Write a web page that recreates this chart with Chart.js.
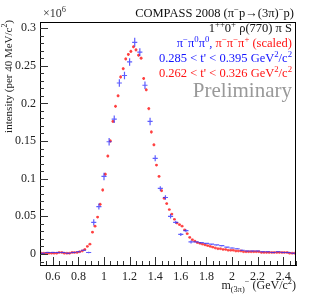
<!DOCTYPE html>
<html>
<head>
<meta charset="utf-8">
<script src="https://cdn.jsdelivr.net/npm/chart.js@4"></script>
<style>
  html, body { margin: 0; padding: 0; background: #fff; }
  #wrap { width: 311px; height: 300px; }
</style>
</head>
<body>
<div id="wrap"><canvas id="massChart"></canvas></div>
<script>
// pi- pi0 pi0, 40 MeV bins (bin centres)
const blueMass = [
    0.52, 0.56, 0.60, 0.64, 0.68, 0.72, 0.76, 0.80, 0.84, 0.88,
    0.92, 0.96, 1.00, 1.04, 1.08, 1.12, 1.16, 1.20, 1.24, 1.28,
    1.32, 1.36, 1.40, 1.44, 1.48, 1.52, 1.56, 1.60, 1.64, 1.68,
    1.72, 1.76, 1.80, 1.84, 1.88, 1.92, 1.96, 2.00, 2.04, 2.08,
    2.12, 2.16, 2.20, 2.24, 2.28, 2.32, 2.36, 2.40, 2.44, 2.48
];
const blueIntensity = [
    0.001, 0.002, 0.002, 0.002, 0.002, 0.001, 0.002, 0.003, 0.005, 0.002,
    0.042, 0.063, 0.103, 0.149, 0.179, 0.227, 0.237, 0.255, 0.281, 0.268,
    0.224, 0.176, 0.127, 0.087, 0.075, 0.050, 0.042, 0.026, 0.031, 0.016,
    0.016, 0.015, 0.014, 0.013, 0.012, 0.011, 0.009, 0.008, 0.007, 0.005,
    0.004, 0.004, 0.004, 0.003, 0.003, 0.002, 0.003, 0.002, 0.002, 0.001
];
const blueError = [
    0.001, 0.001, 0.001, 0.001, 0.001, 0.001, 0.001, 0.001, 0.001, 0.001,
    0.004, 0.004, 0.005, 0.005, 0.005, 0.005, 0.005, 0.005, 0.006, 0.005,
    0.005, 0.005, 0.004, 0.003, 0.003, 0.003, 0.002, 0.002, 0.002, 0.002,
    0.001, 0.001, 0.001, 0.001, 0.001, 0.001, 0.001, 0.001, 0.001, 0.001,
    0.001, 0.001, 0.001, 0.001, 0.001, 0.001, 0.001, 0.001, 0.001, 0.001
];

// pi- pi- pi+ (scaled), 20 MeV bins
const redMass = [
    0.51, 0.53, 0.55, 0.57, 0.59, 0.61, 0.63, 0.65, 0.67, 0.69,
    0.71, 0.73, 0.75, 0.77, 0.79, 0.81, 0.83, 0.85, 0.87, 0.89,
    0.91, 0.93, 0.95, 0.97, 0.99, 1.01, 1.03, 1.05, 1.07, 1.09,
    1.11, 1.13, 1.15, 1.17, 1.19, 1.21, 1.23, 1.25, 1.27, 1.29,
    1.31, 1.33, 1.35, 1.37, 1.39, 1.41, 1.43, 1.45, 1.47, 1.49,
    1.51, 1.53, 1.55, 1.57, 1.59, 1.61, 1.63, 1.65, 1.67, 1.69,
    1.71, 1.73, 1.75, 1.77, 1.79, 1.81, 1.83, 1.85, 1.87, 1.89,
    1.91, 1.93, 1.95, 1.97, 1.99, 2.01, 2.03, 2.05, 2.07, 2.09,
    2.11, 2.13, 2.15, 2.17, 2.19, 2.21, 2.23, 2.25, 2.27, 2.29,
    2.31, 2.33, 2.35, 2.37, 2.39, 2.41, 2.43, 2.45, 2.47, 2.49
];
const redIntensity = [
    0.001, 0.001, 0.001, 0.001, 0.001, 0.001, 0.001, 0.002, 0.002, 0.001,
    0.001, 0.001, 0.002, 0.002, 0.002, 0.003, 0.004, 0.006, 0.010, 0.013,
    0.029, 0.037, 0.049, 0.066, 0.085, 0.106, 0.130, 0.150, 0.176, 0.196,
    0.210, 0.235, 0.246, 0.259, 0.265, 0.269, 0.275, 0.271, 0.264, 0.260,
    0.233, 0.218, 0.193, 0.162, 0.145, 0.118, 0.103, 0.084, 0.074, 0.067,
    0.059, 0.053, 0.046, 0.041, 0.039, 0.037, 0.032, 0.027, 0.022, 0.019,
    0.017, 0.015, 0.014, 0.013, 0.012, 0.011, 0.010, 0.009, 0.008, 0.007,
    0.007, 0.006, 0.006, 0.005, 0.005, 0.005, 0.004, 0.004, 0.004, 0.003,
    0.003, 0.003, 0.003, 0.003, 0.003, 0.003, 0.002, 0.002, 0.002, 0.002,
    0.002, 0.002, 0.002, 0.002, 0.002, 0.002, 0.002, 0.001, 0.001, 0.001
];
const redError = [
    0.0005, 0.0005, 0.0005, 0.0005, 0.0005, 0.0005, 0.0005, 0.0005, 0.0005, 0.0005,
    0.0005, 0.0005, 0.0005, 0.0005, 0.0005, 0.0008, 0.0008, 0.001, 0.001, 0.001,
    0.0015, 0.0015, 0.0015, 0.002, 0.002, 0.002, 0.002, 0.002, 0.002, 0.002,
    0.002, 0.002, 0.002, 0.002, 0.002, 0.002, 0.002, 0.002, 0.002, 0.002,
    0.002, 0.002, 0.002, 0.002, 0.002, 0.0015, 0.0015, 0.0015, 0.0015, 0.0015,
    0.001, 0.001, 0.001, 0.001, 0.001, 0.001, 0.001, 0.001, 0.001, 0.001,
    0.0008, 0.0008, 0.0008, 0.0008, 0.0008, 0.0005, 0.0005, 0.0005, 0.0005, 0.0005,
    0.0005, 0.0005, 0.0005, 0.0005, 0.0005, 0.0005, 0.0005, 0.0005, 0.0005, 0.0005,
    0.0005, 0.0005, 0.0005, 0.0005, 0.0005, 0.0005, 0.0005, 0.0005, 0.0005, 0.0005,
    0.0005, 0.0005, 0.0005, 0.0005, 0.0005, 0.0005, 0.0005, 0.0005, 0.0005, 0.0005
];

const xTickValues = [0.6, 0.8, 1, 1.2, 1.4, 1.6, 1.8, 2, 2.2, 2.4];
const yTickValues = [0, 0.05, 0.1, 0.15, 0.2, 0.25, 0.3];

const BLUE = 'rgba(40, 40, 255, 0.75)';
const RED = 'rgba(255, 50, 50, 0.75)';
const BLUE_TEXT = '#1414ff';
const RED_TEXT = '#ff1414';
const FONT = '"Liberation Serif", "Times New Roman", serif';

// half widths of the horizontal error bars (half bin width)
const halfBin = { blue: 0.02, red: 0.01 };

const blueData = blueMass.map((m, i) => ({ x: m, y: blueIntensity[i], e: blueError[i] }));
const redData = redMass.map((m, i) => ({ x: m, y: redIntensity[i], e: redError[i] }));

// draw text pieces with superscripts / subscripts, right aligned at xRight
function drawRich(ctx, segs, xRight, y, size, defColor) {
    const parts = segs.map(s => {
        const mode = s[1] || 'n';
        const fs = mode === 'n' ? size : size * 0.7;
        ctx.font = fs + 'px ' + FONT;
        return { t: s[0], mode, fs, color: s[2] || defColor, w: ctx.measureText(s[0]).width };
    });
    let total = parts.reduce((a, p) => a + p.w, 0);
    let x = xRight - total;
    ctx.textAlign = 'left';
    ctx.textBaseline = 'alphabetic';
    parts.forEach(p => {
        ctx.font = p.fs + 'px ' + FONT;
        ctx.fillStyle = p.color;
        let dy = 0;
        if (p.mode === 'sup') dy = -size * 0.42;
        if (p.mode === 'sub') dy = size * 0.25;
        ctx.fillText(p.t, x, y + dy);
        x += p.w;
    });
    return total;
}

const errorBars = {
    id: 'errorBars',
    beforeDatasetDraw(chart, args) {
        const ds = chart.data.datasets[args.index];
        const xs = chart.scales.x, ys = chart.scales.y;
        const ctx = chart.ctx;
        const area = chart.chartArea;
        const hb = halfBin[ds.kind];
        ctx.save();
        ctx.beginPath();
        ctx.rect(area.left, area.top, area.right - area.left, area.bottom - area.top);
        ctx.clip();
        ctx.strokeStyle = ds.barColor;
        ctx.lineWidth = 1.2;
        ds.data.forEach(d => {
            const px = xs.getPixelForValue(d.x);
            const py = ys.getPixelForValue(d.y);
            const x0 = xs.getPixelForValue(d.x - hb);
            const x1 = xs.getPixelForValue(d.x + hb);
            const y0 = ys.getPixelForValue(d.y - d.e);
            const y1 = ys.getPixelForValue(d.y + d.e);
            ctx.beginPath();
            ctx.moveTo(x0, py);
            ctx.lineTo(x1, py);
            ctx.moveTo(px, y0);
            ctx.lineTo(px, y1);
            ctx.stroke();
        });
        ctx.restore();
    }
};

// ROOT style frame, inward ticks and all the labels
const decorations = {
    id: 'decorations',
    afterDraw(chart) {
        const ctx = chart.ctx;
        const a = chart.chartArea;
        const xs = chart.scales.x, ys = chart.scales.y;
        ctx.save();
        ctx.strokeStyle = '#000';
        ctx.lineWidth = 1;
        ctx.strokeRect(a.left + 0.5, a.top + 0.5, a.right - a.left - 1, a.bottom - a.top);

        ctx.strokeStyle = '#333';
        ctx.beginPath();
        for (let k = 0; k <= 40; k++) {
            const v = 0.5 + k * 0.05;
            const px = Math.round(xs.getPixelForValue(v)) + 0.5;
            const major = k % 4 === 2;
            ctx.moveTo(px, a.bottom);
            ctx.lineTo(px, a.bottom - (major ? 8 : 4));
        }
        for (let k = -1; k <= 30; k++) {
            const v = k * 0.01;
            const py = Math.round(ys.getPixelForValue(v)) + 0.5;
            if (py > a.bottom || py < a.top) continue;
            const major = k % 5 === 0;
            ctx.moveTo(a.left, py);
            ctx.lineTo(a.left + (major ? 8 : 4), py);
        }
        ctx.stroke();

        // exponent
        drawRich(ctx, [['×10', 'n'], ['6', 'sup']], 66, 17, 12, '#333');
        drawRich(ctx, [['COMPASS 2008 (π', 'n'], ['−', 'sup'], ['p→(3π)', 'n'], ['−', 'sup'], ['p)', 'n']],
            294, 17, 12.5, '#111');
        drawRich(ctx, [['1', 'n'], ['++', 'sup'], ['0', 'n'], ['+', 'sup'], [' ρ(770) π S', 'n']],
            292, 32, 12.5, '#111');
        drawRich(ctx, [
            ['π', 'n', BLUE_TEXT], ['−', 'sup', BLUE_TEXT], ['π', 'n', BLUE_TEXT], ['0', 'sup', BLUE_TEXT],
            ['π', 'n', BLUE_TEXT], ['0', 'sup', BLUE_TEXT], [', ', 'n', BLUE_TEXT],
            ['π', 'n', RED_TEXT], ['−', 'sup', RED_TEXT], ['π', 'n', RED_TEXT], ['−', 'sup', RED_TEXT],
            ['π', 'n', RED_TEXT], ['+', 'sup', RED_TEXT], [' (scaled)', 'n', RED_TEXT]
        ], 292, 47, 12.5, BLUE_TEXT);
        drawRich(ctx, [["0.285 < t' < 0.395 GeV", 'n'], ['2', 'sup'], ['/c', 'n'], ['2', 'sup']],
            292, 62, 12.5, BLUE_TEXT);
        drawRich(ctx, [["0.262 < t' < 0.326 GeV", 'n'], ['2', 'sup'], ['/c', 'n'], ['2', 'sup']],
            292, 77, 12.5, RED_TEXT);
        drawRich(ctx, [['Preliminary', 'n']], 292, 97, 21, '#999');

        // x title
        drawRich(ctx, [['m', 'n'], ['(3π)', 'sub'], ['−', 'sup'], [' (GeV/c', 'n'], ['2', 'sup'], [')', 'n']],
            296, 289, 12, '#222');

        // y title, rotated
        ctx.save();
        ctx.translate(12, a.top - 2);
        ctx.rotate(-Math.PI / 2);
        drawRich(ctx, [['intensity (per 40 MeV/c', 'n'], ['2', 'sup'], [')', 'n']], 0, 0, 11, '#222');
        ctx.restore();

        ctx.restore();
    }
};

const chartConfig = {
    type: 'scatter',
    data: {
        datasets: [
            {
                label: 'pi- pi0 pi0',
                kind: 'blue',
                data: blueData,
                barColor: BLUE,
                pointRadius: 0,
                pointHoverRadius: 0
            },
            {
                label: 'pi- pi- pi+ (scaled)',
                kind: 'red',
                data: redData,
                barColor: RED,
                pointRadius: 1.4,
                pointStyle: 'circle',
                backgroundColor: RED,
                borderWidth: 0
            }
        ]
    },
    options: {
        responsive: true,
        maintainAspectRatio: false,
        animation: false,
        layout: { padding: { top: 22, right: 15, left: 0, bottom: 0 } },
        plugins: {
            legend: { display: false },
            title: { display: false },
            tooltip: { enabled: false }
        },
        scales: {
            x: {
                type: 'linear',
                min: 0.5,
                max: 2.5,
                afterBuildTicks: s => { s.ticks = xTickValues.map(v => ({ value: v })); },
                afterFit: s => { s.height = 35; },
                grid: { display: false, drawTicks: false },
                border: { display: true, color: '#000', width: 1 },
                ticks: {
                    padding: 5,
                    color: '#222',
                    font: { family: FONT, size: 12 },
                    maxRotation: 0,
                    callback: v => String(Math.round(v * 10) / 10)
                }
            },
            y: {
                type: 'linear',
                min: -0.0146,
                max: 0.308,
                afterBuildTicks: s => { s.ticks = yTickValues.map(v => ({ value: v })); },
                afterFit: s => { s.width = 40; },
                grid: { display: false, drawTicks: false },
                border: { display: true, color: '#000', width: 1 },
                ticks: {
                    padding: 4,
                    color: '#222',
                    font: { family: FONT, size: 12 },
                    callback: v => String(Math.round(v * 100) / 100)
                }
            }
        }
    },
    plugins: [errorBars, decorations]
};

new Chart(document.getElementById('massChart').getContext('2d'), chartConfig);
</script>
</body>
</html>
